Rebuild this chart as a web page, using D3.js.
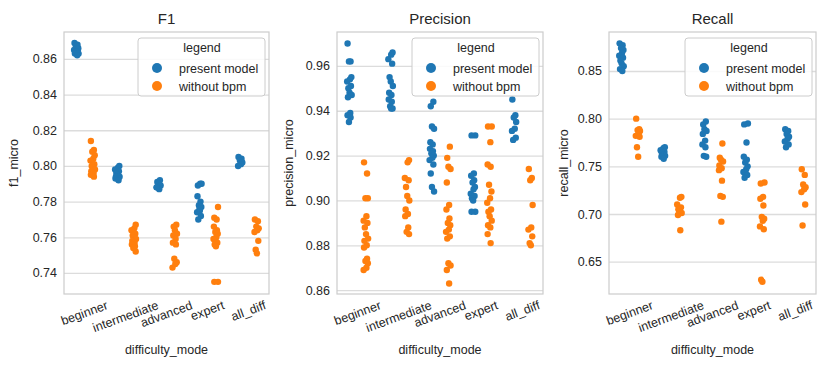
<!DOCTYPE html>
<html>
<head>
<meta charset="utf-8">
<script src="https://cdn.jsdelivr.net/npm/d3@7"></script>
<style>
  body { margin: 0; background: #fff; }
  text { font-family: "Liberation Sans", Arial, sans-serif; fill: #262626; }
</style>
</head>
<body>
<script>
// DONNEES

var categories = ["beginner", "intermediate", "advanced", "expert", "all_diff"];
var seriesNames = ["present model", "without bpm"];
var panelTitles = ["F1", "Precision", "Recall"];
var yLabels = ["f1_micro", "precision_micro", "recall_micro"];

var f1Ticks = [0.74, 0.76, 0.78, 0.80, 0.82, 0.84, 0.86];
var precisionTicks = [0.86, 0.88, 0.90, 0.92, 0.94, 0.96];
var recallTicks = [0.65, 0.70, 0.75, 0.80, 0.85];

var f1Present = [
  [0.869, 0.868, 0.867, 0.866, 0.866, 0.865, 0.865, 0.864, 0.864, 0.863, 0.863, 0.862],
  [0.800, 0.799, 0.798, 0.797, 0.796, 0.795, 0.794, 0.794, 0.793, 0.793, 0.792],
  [0.792, 0.791, 0.790, 0.789, 0.788, 0.787, 0.788],
  [0.790, 0.789, 0.790, 0.783, 0.780, 0.778, 0.777, 0.775, 0.774, 0.772, 0.770, 0.776],
  [0.805, 0.804, 0.803, 0.802, 0.801, 0.800]
];
var f1Without = [
  [0.814, 0.809, 0.808, 0.806, 0.804, 0.803, 0.801, 0.800, 0.799, 0.798, 0.797, 0.796, 0.795, 0.794],
  [0.767, 0.765, 0.764, 0.762, 0.761, 0.760, 0.759, 0.758, 0.757, 0.756, 0.755, 0.754, 0.752],
  [0.767, 0.766, 0.764, 0.762, 0.761, 0.759, 0.757, 0.756, 0.748, 0.746, 0.745, 0.743],
  [0.777, 0.771, 0.770, 0.766, 0.764, 0.763, 0.762, 0.760, 0.759, 0.757, 0.756, 0.755, 0.735, 0.735],
  [0.770, 0.769, 0.766, 0.765, 0.764, 0.763, 0.758, 0.753, 0.751]
];

var precisionPresent = [
  [0.970, 0.962, 0.962, 0.955, 0.954, 0.953, 0.951, 0.950, 0.948, 0.947, 0.946, 0.939, 0.938, 0.937, 0.935],
  [0.966, 0.965, 0.963, 0.961, 0.955, 0.953, 0.951, 0.948, 0.947, 0.945, 0.944, 0.942, 0.941, 0.941],
  [0.944, 0.942, 0.933, 0.932, 0.926, 0.925, 0.923, 0.922, 0.921, 0.920, 0.919, 0.918, 0.916, 0.912, 0.906, 0.904],
  [0.929, 0.929, 0.912, 0.911, 0.909, 0.908, 0.906, 0.905, 0.903, 0.902, 0.901, 0.900, 0.895, 0.895],
  [0.945, 0.938, 0.937, 0.935, 0.932, 0.931, 0.928, 0.927]
];
var precisionWithout = [
  [0.917, 0.912, 0.901, 0.901, 0.893, 0.891, 0.890, 0.888, 0.885, 0.883, 0.882, 0.880, 0.879, 0.874, 0.873, 0.872, 0.870, 0.869],
  [0.918, 0.917, 0.910, 0.909, 0.906, 0.902, 0.900, 0.896, 0.894, 0.893, 0.888, 0.886, 0.885],
  [0.924, 0.919, 0.915, 0.914, 0.908, 0.898, 0.896, 0.892, 0.890, 0.889, 0.887, 0.886, 0.884, 0.883, 0.872, 0.871, 0.869, 0.863],
  [0.933, 0.933, 0.926, 0.916, 0.915, 0.907, 0.904, 0.901, 0.899, 0.896, 0.895, 0.893, 0.891, 0.889, 0.888, 0.885, 0.881],
  [0.914, 0.910, 0.909, 0.898, 0.888, 0.887, 0.884, 0.881, 0.880]
];

var recallPresent = [
  [0.879, 0.877, 0.874, 0.872, 0.869, 0.866, 0.864, 0.861, 0.858, 0.855, 0.852, 0.850],
  [0.770, 0.769, 0.767, 0.765, 0.764, 0.762, 0.761, 0.760, 0.758],
  [0.797, 0.794, 0.789, 0.787, 0.784, 0.777, 0.773, 0.770, 0.761, 0.760],
  [0.795, 0.794, 0.775, 0.760, 0.757, 0.754, 0.750, 0.747, 0.744, 0.741, 0.738],
  [0.789, 0.787, 0.784, 0.781, 0.779, 0.776, 0.773, 0.770]
];
var recallWithout = [
  [0.800, 0.789, 0.788, 0.787, 0.785, 0.782, 0.781, 0.770, 0.760],
  [0.718, 0.717, 0.710, 0.707, 0.705, 0.703, 0.701, 0.699, 0.683],
  [0.774, 0.759, 0.757, 0.755, 0.751, 0.748, 0.746, 0.735, 0.719, 0.718, 0.692],
  [0.733, 0.732, 0.718, 0.716, 0.709, 0.697, 0.695, 0.693, 0.687, 0.684, 0.631, 0.629],
  [0.747, 0.741, 0.731, 0.728, 0.726, 0.723, 0.710, 0.688]
];

var colors = ["#1f77b4", "#ff7f0e"];

// MISE EN PAGE DES TROIS PANNEAUX

var W = 830, H = 369;
var top_ = 32, bottom_ = 294;

var panels = [
  {left: 64,  right: 269, ylab: 46, domain: [0.7282, 0.8751], ticks: f1Ticks,        data: [f1Present, f1Without]},
  {left: 337, right: 543, ylab: 44, domain: [0.8583, 0.9751], ticks: precisionTicks, data: [precisionPresent, precisionWithout]},
  {left: 609, right: 816, ylab: 41, domain: [0.6161, 0.8909], ticks: recallTicks,    data: [recallPresent, recallWithout]}
];

var svg = d3.select("body").append("svg")
    .attr("width", W)
    .attr("height", H);

// petit decalage deterministe (jitter) selon l'index du point
var jit = [-1.8, 1.2, -0.4, 2.0, 0.6, -2.2, 1.6, -1.0, 0.2, 2.3, -1.4, 0.9];

panels.forEach(function(p, k) {

  var x = d3.scaleBand().domain(categories).range([p.left, p.right]).padding(0);
  var y = d3.scaleLinear().domain(p.domain).range([bottom_, top_]);
  var bw = x.bandwidth();

  var g = svg.append("g");

  // grille horizontale
  g.append("g")
    .attr("transform", "translate(" + p.left + ",0)")
    .call(d3.axisLeft(y).tickValues(p.ticks).tickSize(-(p.right - p.left)).tickFormat(d3.format(".2f")).tickPadding(7))
    .call(function(a) {
      a.select(".domain").remove();
      a.selectAll(".tick line").attr("stroke", "#dcdcdc").attr("stroke-width", 1.3);
      a.selectAll(".tick text").style("font-size", "12.5px").attr("fill", "#262626")
        .attr("font-family", "Liberation Sans, Arial, sans-serif");
    });

  // axe x
  var xa = g.append("g")
    .attr("transform", "translate(0," + bottom_ + ")")
    .call(d3.axisBottom(x).tickSize(0).tickPadding(0));
  xa.select(".domain").remove();
  xa.selectAll(".tick text").each(function(d) {
    var t = d3.select(this)
      .style("font-size", "12.5px")
      .attr("fill", "#262626")
      .attr("font-family", "Liberation Sans, Arial, sans-serif")
      .attr("dy", null)
      .attr("y", 0)
      .attr("text-anchor", "middle")
      .attr("dominant-baseline", "central");
    var w = this.getComputedTextLength();
    var hh = 12.5;
    var cy = 5 + (w * Math.sin(20 * Math.PI / 180) + hh * Math.cos(20 * Math.PI / 180)) / 2;
    t.attr("transform", "translate(0," + cy + ") rotate(-20)");
  });

  // cadre
  g.append("rect")
    .attr("x", p.left).attr("y", top_)
    .attr("width", p.right - p.left).attr("height", bottom_ - top_)
    .attr("fill", "none").attr("stroke", "#cccccc").attr("stroke-width", 1.2);

  // points
  p.data.forEach(function(series, s) {
    var off = (s === 0 ? -0.2 : 0.2) * bw;
    series.forEach(function(vals, c) {
      g.selectAll(null)
        .data(vals)
        .enter().append("circle")
        .attr("cx", function(d, i) { return x(categories[c]) + bw / 2 + off + jit[(i + c * 3) % jit.length]; })
        .attr("cy", function(d) { return y(d); })
        .attr("r", 3.2)
        .attr("fill", colors[s]);
    });
  });

  // titre et etiquettes
  svg.append("text")
    .attr("x", (p.left + p.right) / 2).attr("y", 24)
    .attr("text-anchor", "middle")
    .style("font-size", "15px")
    .text(panelTitles[k]);

  svg.append("text")
    .attr("x", (p.left + p.right) / 2).attr("y", 354)
    .attr("text-anchor", "middle")
    .style("font-size", "12.5px")
    .text("difficulty_mode");

  svg.append("text")
    .attr("transform", "translate(" + (p.left - p.ylab) + "," + ((top_ + bottom_) / 2) + ") rotate(-90)")
    .attr("text-anchor", "middle")
    .style("font-size", "12.5px")
    .text(yLabels[k]);

  // legende
  var lx = p.right - 131, ly = 38;
  var leg = svg.append("g").attr("transform", "translate(" + lx + "," + ly + ")");
  leg.append("rect")
    .attr("width", 127).attr("height", 58).attr("rx", 3)
    .attr("fill", "rgba(255,255,255,0.85)")
    .attr("stroke", "#cccccc").attr("stroke-width", 1);
  leg.append("text")
    .attr("x", 64).attr("y", 14)
    .attr("text-anchor", "middle")
    .style("font-size", "12.5px")
    .text("legend");
  seriesNames.forEach(function(n, s) {
    leg.append("circle")
      .attr("cx", 19).attr("cy", 30 + s * 18)
      .attr("r", 5)
      .attr("fill", colors[s]);
    leg.append("text")
      .attr("x", 41).attr("y", 34.5 + s * 18)
      .style("font-size", "12.5px")
      .text(n);
  });
});
</script>
</body>
</html>
